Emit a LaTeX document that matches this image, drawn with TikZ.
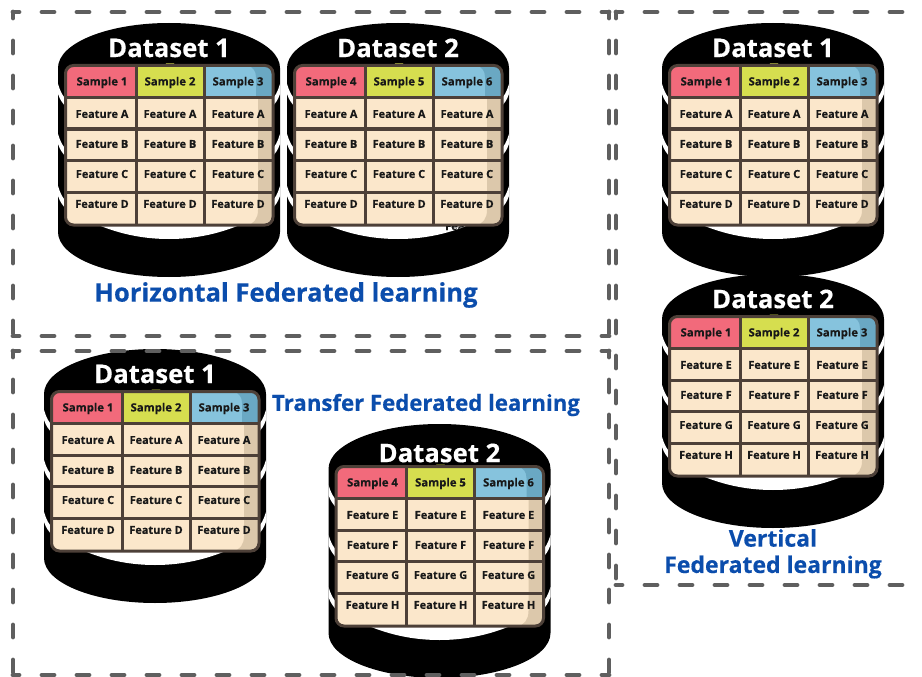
\documentclass[tikz,border=0pt]{standalone}
\usepackage{fontspec}
\setmainfont{Open Sans}[BoldFeatures={FakeBold=0.4}]
\definecolor{samplered}{HTML}{F26A7B}
\definecolor{samplegreen}{HTML}{D6DE4F}
\definecolor{sampleblue}{HTML}{86C3DD}
\definecolor{sampleshade}{HTML}{6AA8C3}
\definecolor{cellcream}{HTML}{FBE7CB}
\definecolor{cellshade}{HTML}{DCC8AB}
\definecolor{gridbrown}{HTML}{4D4038}
\definecolor{framegray}{HTML}{5F5F5F}
\definecolor{headingblue}{HTML}{0B4DAC}
\tikzset{
	celltext/.style={inner sep=0pt, text=black!90, font=\bfseries\fontsize{11}{13}\selectfont},
	sampletext/.style={inner sep=0pt, text=black!90, font=\bfseries\fontsize{11.3}{13}\selectfont},
	titletext/.style={inner sep=0pt, text=white, font=\bfseries\fontsize{25.7}{30}\selectfont},
	headingtext/.style={inner sep=0pt, text=headingblue, font=\bfseries\fontsize{25.6}{30}\selectfont},
	frameline/.style={framegray, line width=4.8pt, line cap=round, dash pattern=on 12pt off 23pt, dash phase=6pt},
	gridline/.style={gridbrown, line width=3pt}
}
% white gap under the table, origin at the top of the drum
\newcommand{\crescentpath}{(-80,198) .. controls (-52,211) and (-26,216) .. (0,216) .. controls (26,216) and (52,211) .. (80,198) -- cycle}
% [title height], name, position, title, sample numbers, feature letters
\newcommand{\dataset}[6][25]{
	\begin{scope}[shift={(#3)}]
	\fill [black] (-111,45) .. controls (-111,20) and (-61,0) .. (0,0) .. controls (61,0) and (111,20) .. (111,45)
		-- (111,209) .. controls (111,234) and (61,254) .. (0,254) .. controls (-61,254) and (-111,234) .. (-111,209) -- cycle;
	\fill [white] \crescentpath;
	\foreach \sgn in {-1,1}
		\foreach \dy in {0,50,102}
			\fill [white, yshift=-\dy pt] (\sgn*111,61) .. controls (\sgn*109,68) and (\sgn*106,74) .. (\sgn*102,77)
				-- (\sgn*102,85) .. controls (\sgn*106,81) and (\sgn*109,77) .. (\sgn*111,71) -- cycle;
	\begin{scope}
		\clip [rounded corners=8pt] (-103.5,42.5) rectangle (104,202);
		\fill [cellcream] (-104,42) rectangle (105,203);
		\fill [samplered] (-104,42) rectangle (-33,74.5);
		\fill [samplegreen] (-33,42) rectangle (35,74.5);
		\fill [sampleblue] (35,42) rectangle (105,74.5);
		\fill [sampleshade] (78,42) .. controls (84,44) and (87,48) .. (87,54) -- (87,74.5) -- (105,74.5) -- (105,42) -- cycle;
		\fill [cellshade] (89,74.5) -- (89,187) .. controls (89,196) and (85,200) .. (78,203) -- (105,203) -- (105,74.5) -- cycle;
	\end{scope}
	\fill [samplegreen] (-5,43) -- (-3,40.5) -- (5,40.5) -- (7,43) -- cycle;
	\foreach \cx in {-33,35}
		\draw [gridline] (\cx,42.5) -- (\cx,202);
	\foreach \cy in {74.5,106,137.5,169}
		\draw [gridline] (-103.5,\cy) -- (104,\cy);
	\draw [gridline, rounded corners=8pt] (-103.5,42.5) rectangle (104,202);
	\node [titletext] (#2-title) at (0,#1) {#4};
	\foreach \smp [count=\i] in {#5} {
		\pgfmathsetmacro{\cx}{-135+68*\i}
		\node [sampletext] (#2-s\i) at (\cx,59.5) {Sample \smp};
		\foreach \ft [count=\j] in {#6} {
			\pgfmathsetmacro{\cy}{61+30*\j}
			\node [celltext] (#2-f\j\i) at (\cx,\cy) {Feature \ft};
		}
	}
	\end{scope}
}
\begin{document}
\begin{tikzpicture}[x=1pt, y=-1pt]
	\useasboundingbox (0,0) rectangle (922,677);

	\dataset{hone}{169,23}{Dataset 1}{1,2,3}{A,B,C,D}
	\dataset{htwo}{398,23}{Dataset 2}{4,5,6}{A,B,C,D}
	\dataset{vone}{773,23}{Dataset 1}{1,2,3}{A,B,C,D}
	\dataset{vtwo}{773,274}{Dataset 2}{1,2,3}{E,F,G,H}
	\dataset{tone}{155,349}{Dataset 1}{1,2,3}{A,B,C,D}
	\dataset[29]{ttwo}{439.5,424}{Dataset 2}{4,5,6}{E,F,G,H}

	% bit of a cell left under the second table
	\begin{scope}[shift={(398,23)}]
		\clip \crescentpath;
		\clip (0,203.5) rectangle (100,220);
		\node [celltext, anchor=north west] (strayfeat) at (47,199) {Feature};
	\end{scope}

	\node [headingtext] (hlabel) at (286,295) {Horizontal Federated learning};
	\node [headingtext, font=\bfseries\fontsize{22.2}{26}\selectfont] (tlabel) at (426,405) {Transfer Federated learning};
	\node [headingtext, font=\bfseries\fontsize{23}{27}\selectfont] (vlabela) at (773,538) {Vertical};
	\node [headingtext, font=\bfseries\fontsize{23}{27}\selectfont] (vlabelb) at (773,567) {Federated learning};

	\draw [frameline] (13,12) -- (609,12);
	\draw [frameline] (13,336) -- (609,336);
	\draw [frameline] (13,12) -- (13,336);
	\draw [frameline] (609,12) -- (609,336);
	\draw [frameline] (13,351) -- (609,351);
	\draw [frameline] (13,675) -- (609,675);
	\draw [frameline] (13,351) -- (13,675);
	\draw [frameline] (609,351) -- (609,675);
	\draw [frameline] (616,12) -- (922,12);
	\draw [frameline] (616,585) -- (922,585);
	\draw [frameline] (616,12) -- (616,585);
\end{tikzpicture}
\end{document}
